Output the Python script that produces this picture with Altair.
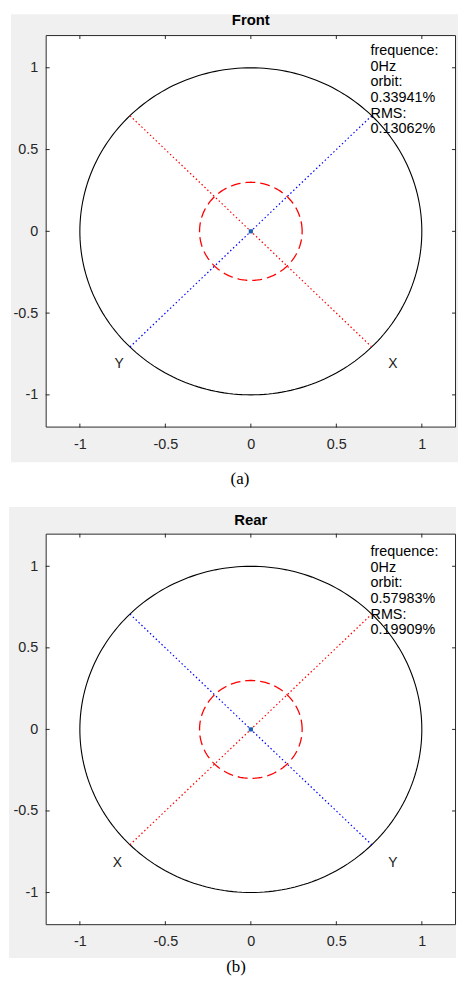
import altair as alt
import numpy as np
import pandas as pd

# ---------------- data ----------------
AXIS_RANGE = [-1.2, 1.2]
TICK_VALUES = [-1, -0.5, 0, 0.5, 1]
OUTER_RADIUS = 1.0
INNER_RADIUS = 0.3

titles = ["Front", "Rear"]
captions = ["(a)", "(b)"]

red_x = [[-0.707, 0.707], [-0.707, 0.707]]
red_y = [[0.707, -0.707], [-0.707, 0.707]]
blue_x = [[-0.707, 0.707], [-0.707, 0.707]]
blue_y = [[-0.707, 0.707], [0.707, -0.707]]

center_x = [0.0]
center_y = [0.0]

marker_text = [["Y", "X"], ["X", "Y"]]
marker_x = [[-0.77, 0.83], [-0.78, 0.83]]
marker_y = [[-0.81, -0.81], [-0.82, -0.82]]

freq = ["0Hz", "0Hz"]
orbit = ["0.33941%", "0.57983%"]
rms = ["0.13062%", "0.19909%"]
info_x = [0.70, 0.70]
info_y = [1.145, 1.13]

FONT = "Liberation Sans"
AXC = "#262626"


def circle_df(r, n=241):
    t = np.linspace(0, 2 * np.pi, n)
    return pd.DataFrame({"x": r * np.cos(t), "y": r * np.sin(t), "i": np.arange(n)})


def panel(i, w, h, region, gray, title_y, cap_x, cap_y):
    one = pd.DataFrame({"k": [0]})
    xs = alt.Scale(domain=AXIS_RANGE, nice=False, zero=False)
    ys = alt.Scale(domain=AXIS_RANGE, nice=False, zero=False)
    lab = "(datum.value < 0 ? '-' : '') + toString(abs(datum.value))"
    x_axis = alt.Axis(values=TICK_VALUES, ticks=False, tickSize=0, domain=False, grid=False,
                      labelExpr=lab, labelFont=FONT, labelFontSize=14.5, labelColor=AXC,
                      labelPadding=10, labelFlush=False, title=None, zindex=1)
    y_axis = alt.Axis(values=TICK_VALUES, ticks=False, tickSize=0, domain=False, grid=False,
                      labelExpr=lab, labelFont=FONT, labelFontSize=14.5, labelColor=AXC,
                      labelPadding=8, labelFlush=False, title=None, zindex=1)
    X = alt.X("x:Q", scale=xs, axis=x_axis)
    Y = alt.Y("y:Q", scale=ys, axis=y_axis)

    def box(x1, x2, y1, y2, **kw):
        return alt.Chart(one).mark_rect(**kw).encode(
            x=alt.value(x1), x2=alt.value(x2), y=alt.value(y1), y2=alt.value(y2))

    region_l = box(*region, fill="white")
    gray_l = box(*gray, fill="#f0f0f0")
    plot_bg = box(0, w, 0, h, fill="white")
    border = box(0.5, w - 0.5, 0.5, h - 0.5, fillOpacity=0, stroke=AXC, strokeWidth=1)

    outer = alt.Chart(circle_df(OUTER_RADIUS)).mark_line(color="black", strokeWidth=1.1).encode(
        x=X, y=Y, order="i:Q")
    inner = alt.Chart(circle_df(INNER_RADIUS)).mark_line(
        color="#ff0000", strokeWidth=1.3, strokeDash=[10, 5]).encode(x=X, y=Y, order="i:Q")

    red_df = pd.DataFrame({"x": red_x[i], "y": red_y[i], "i": [0, 1]})
    blue_df = pd.DataFrame({"x": blue_x[i], "y": blue_y[i], "i": [0, 1]})
    red_l = alt.Chart(red_df).mark_line(color="#ff0000", strokeWidth=1.2, strokeDash=[1.5, 2.5]).encode(
        x=X, y=Y, order="i:Q")
    blue_l = alt.Chart(blue_df).mark_line(color="#0000ff", strokeWidth=1.2, strokeDash=[1.5, 2.5]).encode(
        x=X, y=Y, order="i:Q")

    center = alt.Chart(pd.DataFrame({"x": center_x, "y": center_y})).mark_square(
        size=18, color="#2060b0", opacity=1).encode(x=X, y=Y)

    mk = alt.Chart(pd.DataFrame({"x": marker_x[i], "y": marker_y[i], "t": marker_text[i]})).mark_text(
        font=FONT, fontSize=14, color="#1a1a1a").encode(x=X, y=Y, text="t:N")

    info_txt = "\n".join(["frequence:", freq[i], "orbit:", orbit[i], "RMS:", rms[i]])
    info = alt.Chart(pd.DataFrame({"x": [info_x[i]], "y": [info_y[i]], "t": [info_txt]})).mark_text(
        font=FONT, fontSize=14.5, align="left", baseline="top", lineBreak="\n", lineHeight=15.8,
        color="black").encode(x=X, y=Y, text="t:N")

    tdf_x = pd.DataFrame({"x": TICK_VALUES})
    tdf_y = pd.DataFrame({"y": TICK_VALUES})
    tick_b = alt.Chart(tdf_x).mark_rule(color=AXC, strokeWidth=1).encode(
        x=X, y=alt.value(h), y2=alt.value(h - 4))
    tick_t = alt.Chart(tdf_x).mark_rule(color=AXC, strokeWidth=1).encode(
        x=X, y=alt.value(0), y2=alt.value(4))
    tick_l = alt.Chart(tdf_y).mark_rule(color=AXC, strokeWidth=1).encode(
        y=Y, x=alt.value(0), x2=alt.value(4))
    tick_r = alt.Chart(tdf_y).mark_rule(color=AXC, strokeWidth=1).encode(
        y=Y, x=alt.value(w), x2=alt.value(w - 4))

    title = alt.Chart(pd.DataFrame({"t": [titles[i]]})).mark_text(
        font=FONT, fontSize=15, fontWeight="bold", color="black").encode(
        x=alt.value(w / 2), y=alt.value(title_y), text="t:N")
    cap = alt.Chart(pd.DataFrame({"t": [captions[i]]})).mark_text(
        font="Liberation Serif", fontSize=17, color="black").encode(
        x=alt.value(cap_x), y=alt.value(cap_y), text="t:N")

    return alt.layer(region_l, gray_l, plot_bg, outer, red_l, blue_l, inner, center, mk, info,
                     border, tick_b, tick_t, tick_l, tick_r, title, cap).properties(width=w, height=h)


pa = panel(0, 414, 396, (-35, 416, -21, 466), (-35, 416, -21, 431), -15, 196, 448)
pb = panel(1, 414, 395, (-37, 414, -35, 445), (-37, 414, -27, 428), -14, 192, 437)

chart = alt.vconcat(pa, pb, spacing=0).properties(padding=0, background="white").configure_view(
    stroke="transparent")

chart.save("out.html", embed_options={"renderer": "svg", "actions": False})
